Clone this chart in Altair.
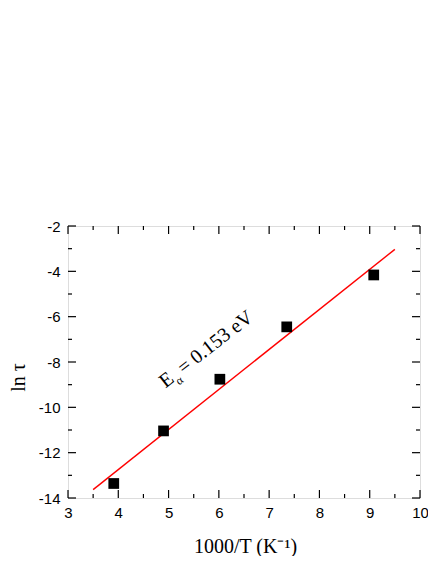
import altair as alt
import pandas as pd

# data points
inv_T = [3.91, 4.90, 6.02, 7.35, 9.08]
ln_tau = [-13.36, -11.04, -8.76, -6.45, -4.16]

# fitted line endpoints
fit_x = [3.5, 9.5]
fit_y = [-13.63, -3.03]

# tick positions
x_major = [3, 4, 5, 6, 7, 8, 9, 10]
x_minor = [3.5, 4.5, 5.5, 6.5, 7.5, 8.5, 9.5]
y_major = [-14, -12, -10, -8, -6, -4, -2]
y_minor = [-13, -11, -9, -7, -5, -3]

# annotation pieces
ann_text = ["E", "α", "= 0.153 eV"]
ann_x = [4.94, 5.21, 5.30]
ann_y = [-9.17, -9.04, -8.56]
ann_size = [20, 12, 20]

W, H = 352, 272
MAJ, MIN = 8, 4

pts = pd.DataFrame({"x": inv_T, "y": ln_tau})
fit = pd.DataFrame({"x": fit_x, "y": fit_y})

X = alt.X("x:Q", scale=alt.Scale(domain=[3, 10], nice=False, zero=False),
          axis=alt.Axis(values=x_major, title="1000/T (K⁻¹)", ticks=False, tickSize=0,
                        domain=False, grid=False, labelFont="Liberation Sans",
                        labelFontSize=15, labelColor="black", labelPadding=7,
                        titleFont="Liberation Serif", titleFontSize=20,
                        titleFontWeight="normal", titleColor="black",
                        titleX=177, titleY=54, titleBaseline="alphabetic",
                        labelFlush=False))
Y = alt.Y("y:Q", scale=alt.Scale(domain=[-14, -2], nice=False, zero=False),
          axis=alt.Axis(values=y_major, title="ln τ", ticks=False, tickSize=0,
                        domain=False, grid=False, labelFont="Liberation Sans",
                        labelFontSize=15, labelColor="black", labelPadding=8,
                        labelExpr="'' + datum.value",
                        titleFont="Liberation Serif", titleFontSize=20,
                        titleFontWeight="normal", titleColor="black",
                        titleX=-50, titleY=151, titleAngle=270,
                        titleAlign="center", titleBaseline="middle",
                        labelFlush=False))

line = alt.Chart(fit).mark_line(color="#ff0000", strokeWidth=1.4).encode(x=X, y=Y)
points = alt.Chart(pts).mark_square(color="black", size=115, opacity=1).encode(x=X, y=Y)

def xticks(vals, length):
    d = pd.DataFrame({"x": vals})
    b = alt.Chart(d).mark_rule(color="black", strokeWidth=1.2).encode(
        x=X, y=alt.value(H), y2=alt.value(H - length))
    t = alt.Chart(d).mark_rule(color="black", strokeWidth=1.2).encode(
        x=X, y=alt.value(0), y2=alt.value(length))
    return [b, t]

def yticks(vals, length):
    d = pd.DataFrame({"y": vals})
    l = alt.Chart(d).mark_rule(color="black", strokeWidth=1.2).encode(
        y=Y, x=alt.value(0), x2=alt.value(length))
    r = alt.Chart(d).mark_rule(color="black", strokeWidth=1.2).encode(
        y=Y, x=alt.value(W), x2=alt.value(W - length))
    return [l, r]

ticks = xticks(x_major, MAJ) + xticks(x_minor, MIN) + yticks(y_major, MAJ) + yticks(y_minor, MIN)

ann = pd.DataFrame({"x": ann_x, "y": ann_y, "t": ann_text, "s": ann_size})
texts = []
for i in range(len(ann_text)):
    texts.append(
        alt.Chart(ann.iloc[[i]]).mark_text(
            angle=322, align="left", baseline="alphabetic",
            font="Liberation Serif", fontSize=ann_size[i], color="black"
        ).encode(x=X, y=Y, text="t:N")
    )

chart = alt.layer(line, points, *ticks, *texts).properties(
    width=W, height=H,
    autosize=alt.AutoSizeParams(type="none"),
    padding={"left": 60, "top": 218, "right": 8, "bottom": 58},
).configure_view(stroke="black", strokeWidth=1.5).configure(background="white")

chart.save("out.html", embed_options={"renderer": "svg", "actions": False})
